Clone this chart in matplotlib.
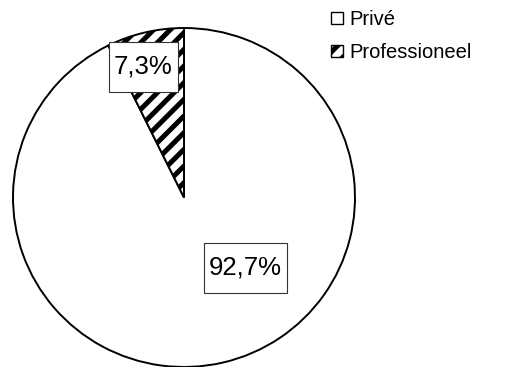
import matplotlib
matplotlib.use("Agg")
import matplotlib.pyplot as plt
from matplotlib.patches import Patch, Rectangle

labels = ["Privé", "Professioneel"]
shares = [92.7, 7.3]
pct_text = ["92,7%", "7,3%"]
label_pos = [(0.357, -0.413), (-0.237, 0.770)]

plt.rcParams["font.family"] = ["Liberation Sans", "DejaVu Sans"]
plt.rcParams["hatch.linewidth"] = 3.6

W, H = 514, 367
fig = plt.figure(figsize=(W / 100, H / 100), dpi=100)
ax = fig.add_axes([13 / W, 0 / H, 342 / W, 339 / H])

wedges, _ = ax.pie(
    shares,
    startangle=90,
    counterclock=False,
    colors=["white", "white"],
    hatch=["", "//"],
    wedgeprops=dict(edgecolor="black", linewidth=1.4, clip_on=False),
)
ax.set_aspect("auto")
ax.set_xlim(-1, 1)
ax.set_ylim(-1, 1)

# percentage labels in plain white boxes
fig.canvas.draw()
renderer = fig.canvas.get_renderer()
inv = ax.transData.inverted()
for txt, (x, y) in zip(pct_text, label_pos):
    t = ax.text(x, y, txt, ha="center", va="center", fontsize=18.5, zorder=5)
    bb = t.get_window_extent(renderer)
    x0 = inv.transform((bb.x0 - 5, 0))[0]
    x1 = inv.transform((bb.x1 + 5, 0))[0]
    h = 50 / 339 * 2
    ax.add_patch(Rectangle((x0, y - h / 2), x1 - x0, h, facecolor="white",
                           edgecolor="#333333", linewidth=0.8, zorder=4))

handles = [
    Patch(facecolor="white", edgecolor="black", linewidth=1.0),
    Patch(facecolor="white", edgecolor="black", linewidth=1.0, hatch="//"),
]
fig.legend(handles, labels, loc="upper left",
           bbox_to_anchor=(331 / W, 1 - 10 / H), frameon=False,
           fontsize=14.5, handlelength=0.62, handleheight=0.52,
           handletextpad=0.3, labelspacing=0.72, borderpad=0,
           borderaxespad=0)

fig.savefig("out.png", dpi=100)
